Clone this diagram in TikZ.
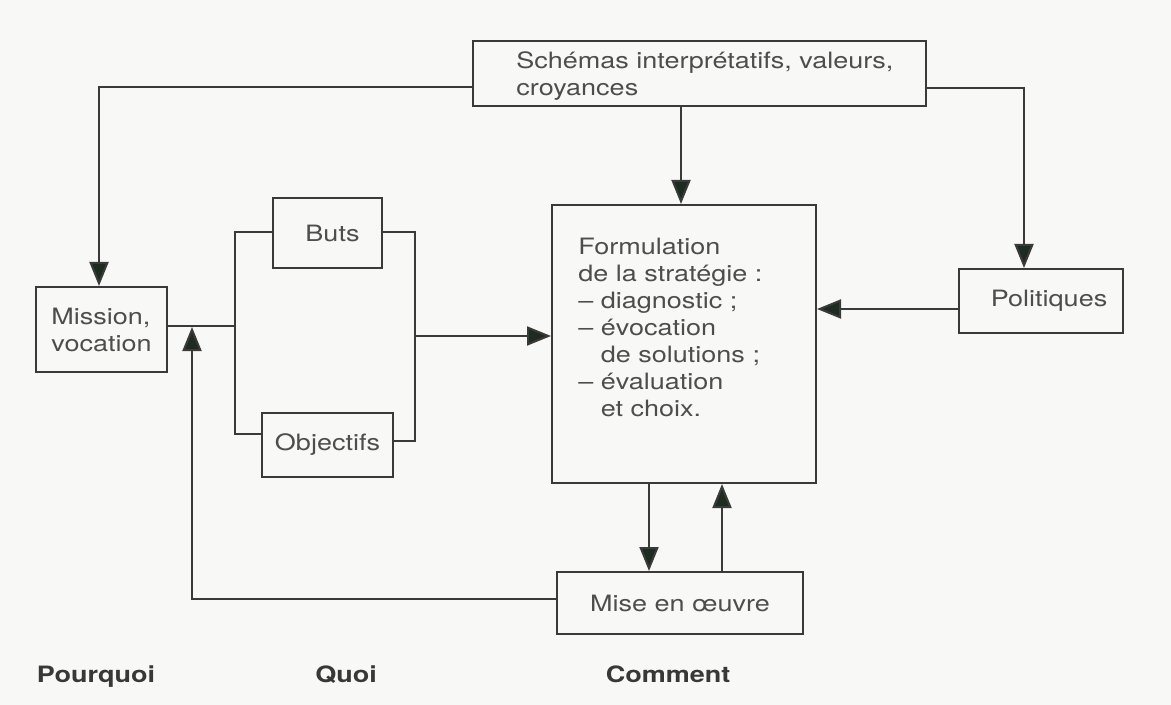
\documentclass[tikz,border=0pt]{standalone}
\usepackage{fontspec}
\setmainfont{TeX Gyre Heros}[FakeStretch=1.2]
\usetikzlibrary{arrows.meta}
\definecolor{ink}{HTML}{3A3A3A}
\definecolor{txt}{HTML}{4D4D4D}
\definecolor{head}{HTML}{1E2B20}
\definecolor{paper}{HTML}{F8F8F6}

\begin{document}
\begin{tikzpicture}[x=0.5pt,y=-0.5pt,
  font=\fontsize{11.25}{13.5}\selectfont,
  box/.style={draw=ink,line width=1pt,inner sep=0pt,text=txt},
  wire/.style={draw=ink,line width=1pt},
  arr/.style={wire,-{Triangle[length=12pt,width=9.5pt,fill=head]}},
  lbl/.style={text=txt,inner sep=0pt,align=left,anchor=base west},
  axis/.style={font=\fontsize{11.25}{13.5}\selectfont\bfseries,text=black!78,inner sep=0pt,anchor=base}]

% page
\fill[paper] (0,0) rectangle (1171,705);
\useasboundingbox (0,0) rectangle (1171,705);

% boxes (multi-line texts are placed by the baseline of their last line)
\node[box,minimum width=226.5pt,minimum height=32.5pt] (schemas) at (699.5,73.5) {};
\node[lbl] (schemas-t) at (516,96) {Schémas interprétatifs, valeurs,\\croyances};

\node[box,minimum width=65.5pt,minimum height=42.5pt,align=left] (mission) at (101.5,329.5) {Mission,\\vocation};
\node[box,minimum width=54.5pt,minimum height=35pt] (buts) at (327.5,233) {\hspace*{5pt}Buts};
\node[box,minimum width=65.5pt,minimum height=32pt] (objectifs) at (327.5,445) {Objectifs};

\node[box,minimum width=132pt,minimum height=139pt] (formulation) at (684,344) {};
\node[lbl] (formulation-t) at (578,416) {Formulation\\de la stratégie :\\– diagnostic ;\\– évocation\\\phantom{– }de solutions ;\\– évaluation\\\phantom{– }et choix.};

\node[box,minimum width=82pt,minimum height=32pt] (politiques) at (1041,301) {\hspace*{8pt}Politiques};
\node[box,minimum width=123pt,minimum height=31pt] (mise) at (680,603) {Mise en œuvre};

% bends of the connectors
\coordinate (kL) at (99,87);
\coordinate (kR) at (1024,88);
\coordinate (kD) at (681,0);
\coordinate (jL) at (235,326);
\coordinate (bLt) at (235,232);
\coordinate (bLb) at (235,434);
\coordinate (bRt) at (415,232);
\coordinate (bRb) at (415,441);
\coordinate (bRm) at (415,336);
\coordinate (pA) at (0,309);
\coordinate (dA) at (649,0);
\coordinate (uA) at (722,0);
\coordinate (fb) at (192,599);
\coordinate (fbT) at (192,327);

% connectors
\draw[arr] (schemas.west |- kL) -- (kL) -- (kL |- mission.north);
\draw[arr] (schemas.east |- kR) -- (kR) -- (kR |- politiques.north);
\draw[arr] (schemas.south -| kD) -- (formulation.north -| kD);

\draw[wire] (mission.east |- jL) -- (jL);
\draw[wire] (buts.west |- bLt) -- (bLt) -- (bLb) -- (objectifs.west |- bLb);
\draw[wire] (buts.east |- bRt) -- (bRt) -- (bRb) -- (objectifs.east |- bRb);
\draw[arr] (bRm) -- (formulation.west |- bRm);

\draw[arr] (politiques.west |- pA) -- (formulation.east |- pA);
\draw[arr] (formulation.south -| dA) -- (mise.north -| dA);
\draw[arr] (mise.north -| uA) -- (formulation.south -| uA);
\draw[arr] (mise.west |- fb) -- (fb) -- (fbT);

% column headings
\node[axis] (pourquoi) at (96,682) {Pourquoi};
\node[axis] (quoi) at (346,682) {Quoi};
\node[axis] (comment) at (668,682) {Comment};
\end{tikzpicture}
\end{document}
